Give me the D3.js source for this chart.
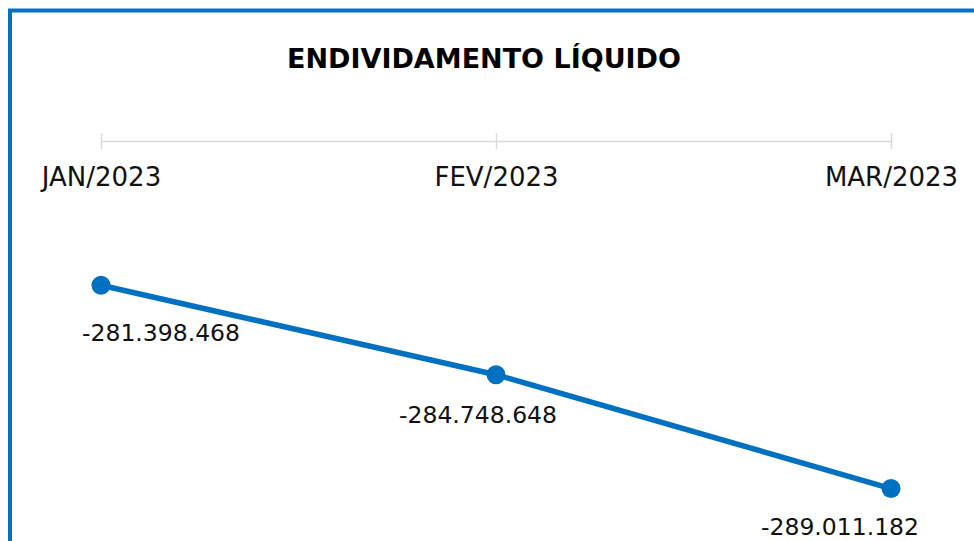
<!DOCTYPE html>
<html>
<head>
<meta charset="utf-8">
<script src="https://cdn.jsdelivr.net/npm/d3@7"></script>
<style>
  body { margin: 0; background: #fff; }
  text { font-family: "DejaVu Sans", sans-serif; }
</style>
</head>
<body>
<div id="chart"></div>
<script>
// data
const months = ["JAN/2023", "FEV/2023", "MAR/2023"];
const debtValues = [-281398468, -284748648, -289011182];
const valueLabels = ["-281.398.468", "-284.748.648", "-289.011.182"];

// svg
let width = 974, height = 541;
let svg = d3.select("#chart").append("svg")
    .attr("width", width).attr("height", height);

// frame (only top and left edges are visible)
svg.append("rect")
    .attr("x", 10).attr("y", 10.5)
    .attr("width", 1000).attr("height", 600)
    .attr("fill", "none")
    .attr("stroke", "#0070C0")
    .attr("stroke-width", 4);

// title
svg.append("text")
    .attr("x", 484).attr("y", 68)
    .attr("text-anchor", "middle")
    .attr("font-size", 27)
    .attr("font-weight", "bold")
    .attr("fill", "#000")
    .text("ENDIVIDAMENTO LÍQUIDO");

// scales
let xScale = d3.scalePoint()
    .domain(months)
    .range([101, 891]);

let yScale = d3.scaleLinear()
    .domain([-290000000, -276000000])
    .range([515, 141]);

// axis sits at the top (max of negative range)
let axisG = svg.append("g")
    .attr("transform", `translate(0, ${yScale(-276000000)})`)
    .call(d3.axisBottom(xScale).tickSizeInner(8).tickSizeOuter(0).tickPadding(19));

axisG.select(".domain").attr("stroke", "#d9d9d9").attr("stroke-width", 1.5);
axisG.selectAll(".tick line")
    .attr("y1", -8)
    .attr("stroke", "#d9d9d9").attr("stroke-width", 1.5);
axisG.selectAll(".tick text")
    .attr("font-size", 26)
    .attr("font-family", "DejaVu Sans, sans-serif")
    .attr("fill", "#111");

// line
let line = d3.line()
    .x((d, i) => xScale(months[i]))
    .y(d => yScale(d));

svg.append("path")
    .datum(debtValues)
    .attr("d", line)
    .attr("fill", "none")
    .attr("stroke", "#0070C0")
    .attr("stroke-width", 5.5);

// points
svg.selectAll("circle.pt")
    .data(debtValues)
    .enter()
    .append("circle")
    .attr("class", "pt")
    .attr("cx", (d, i) => xScale(months[i]))
    .attr("cy", d => yScale(d))
    .attr("r", 9.5)
    .attr("fill", "#0070C0");

// data labels (manually nudged like the original)
const labelDx = [60, -18, -51];
const labelDy = [56, 48, 46];
svg.selectAll("text.lbl")
    .data(debtValues)
    .enter()
    .append("text")
    .attr("class", "lbl")
    .attr("x", (d, i) => xScale(months[i]) + labelDx[i])
    .attr("y", (d, i) => yScale(d) + labelDy[i])
    .attr("text-anchor", "middle")
    .attr("font-size", 23.5)
    .attr("fill", "#111")
    .text((d, i) => valueLabels[i]);
</script>
</body>
</html>
